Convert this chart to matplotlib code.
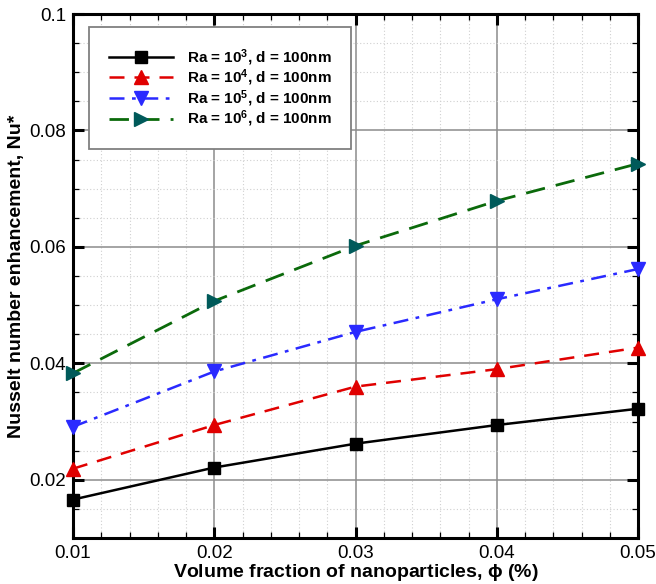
import numpy as np
import matplotlib
matplotlib.use("Agg")
import matplotlib.pyplot as plt
from matplotlib.ticker import MultipleLocator, FixedLocator

plt.rcParams['font.family'] = ['Liberation Sans', 'DejaVu Sans']
plt.rcParams['mathtext.default'] = 'regular'

# data
phi = [0.01, 0.02, 0.03, 0.04, 0.05]
nu_ra3 = [0.0166, 0.0221, 0.0262, 0.0294, 0.0322]
nu_ra4 = [0.0219, 0.0294, 0.0360, 0.0390, 0.0427]
nu_ra5 = [0.0291, 0.0386, 0.0454, 0.0510, 0.0562]
nu_ra6 = [0.0383, 0.0507, 0.0602, 0.0679, 0.0743]
labels = ['Ra = 10$^{3}$, d = 100nm', 'Ra = 10$^{4}$, d = 100nm',
          'Ra = 10$^{5}$, d = 100nm', 'Ra = 10$^{6}$, d = 100nm']
xticks = [0.01, 0.02, 0.03, 0.04, 0.05]
xtick_labels = ['0.01', '0.02', '0.03', '0.04', '0.05']
yticks = [0.02, 0.04, 0.06, 0.08, 0.1]
ytick_labels = ['0.02', '0.04', '0.06', '0.08', '0.1']

fig = plt.figure(figsize=(6.56, 5.84), dpi=100)
ax = fig.add_axes([0.1113, 0.0788, 0.8613, 0.8972])

ax.set_xlim(0.01, 0.05)
ax.set_ylim(0.01, 0.1)
ax.xaxis.set_major_locator(FixedLocator(xticks))
ax.xaxis.set_minor_locator(MultipleLocator(0.002))
ax.yaxis.set_major_locator(FixedLocator(yticks))
ax.yaxis.set_minor_locator(MultipleLocator(0.005))
ax.grid(which='major', color='#8c8c8c', lw=1.1, ls='-')
ax.grid(which='minor', color='#d0d0d0', lw=0.8, ls=(0, (1, 2)))
ax.set_axisbelow(True)

ax.plot(phi, nu_ra3, color='black', lw=1.8, ls='-', marker='s', ms=9,
        mfc='black', mec='black', label=labels[0], clip_on=False, zorder=5)
ax.plot(phi, nu_ra4, color='#e00000', lw=1.8, ls=(0, (6, 4)), marker='^', ms=10,
        mfc='#e00000', mec='#e00000', label=labels[1], clip_on=False, zorder=5)
ax.plot(phi, nu_ra5, color='#2a2aff', lw=1.8, ls=(0, (6, 3, 1.5, 3)), marker='v', ms=10,
        mfc='#2a2aff', mec='#2a2aff', label=labels[2], clip_on=False, zorder=5)
ax.plot(phi, nu_ra6, color='#0b6a0b', lw=2.0, ls=(0, (7, 4)), marker='>', ms=10,
        mfc='#005a5a', mec='#005a5a', label=labels[3], clip_on=False, zorder=5)

ax.set_xticklabels(xtick_labels)
ax.set_yticklabels(ytick_labels)
ax.tick_params(which='both', direction='in', top=True, right=True, labelsize=13.5)
ax.tick_params(which='major', length=8, width=2.2, pad=5)
ax.tick_params(which='minor', length=4, width=0.9)
for s in ax.spines.values():
    s.set_linewidth(2.2)

ax.set_xlabel(r'Volume fraction of nanoparticles, $\phi$ (%)', fontsize=14,
              fontweight='bold', labelpad=0)
ax.set_ylabel('Nusselt number enhancement, Nu*', fontsize=14, fontweight='bold',
              labelpad=3)

leg = ax.legend(loc='upper left', bbox_to_anchor=(0.028, 0.975), fancybox=False,
                frameon=True, prop={'weight': 'bold', 'size': 11},
                handlelength=4.2, borderpad=1.3, labelspacing=0.0,
                borderaxespad=0, handletextpad=0.9)
leg.get_frame().set_edgecolor('#808080')
leg.get_frame().set_linewidth(1.3)
leg.get_frame().set_alpha(1)

fig.savefig('out.png', dpi=100)
